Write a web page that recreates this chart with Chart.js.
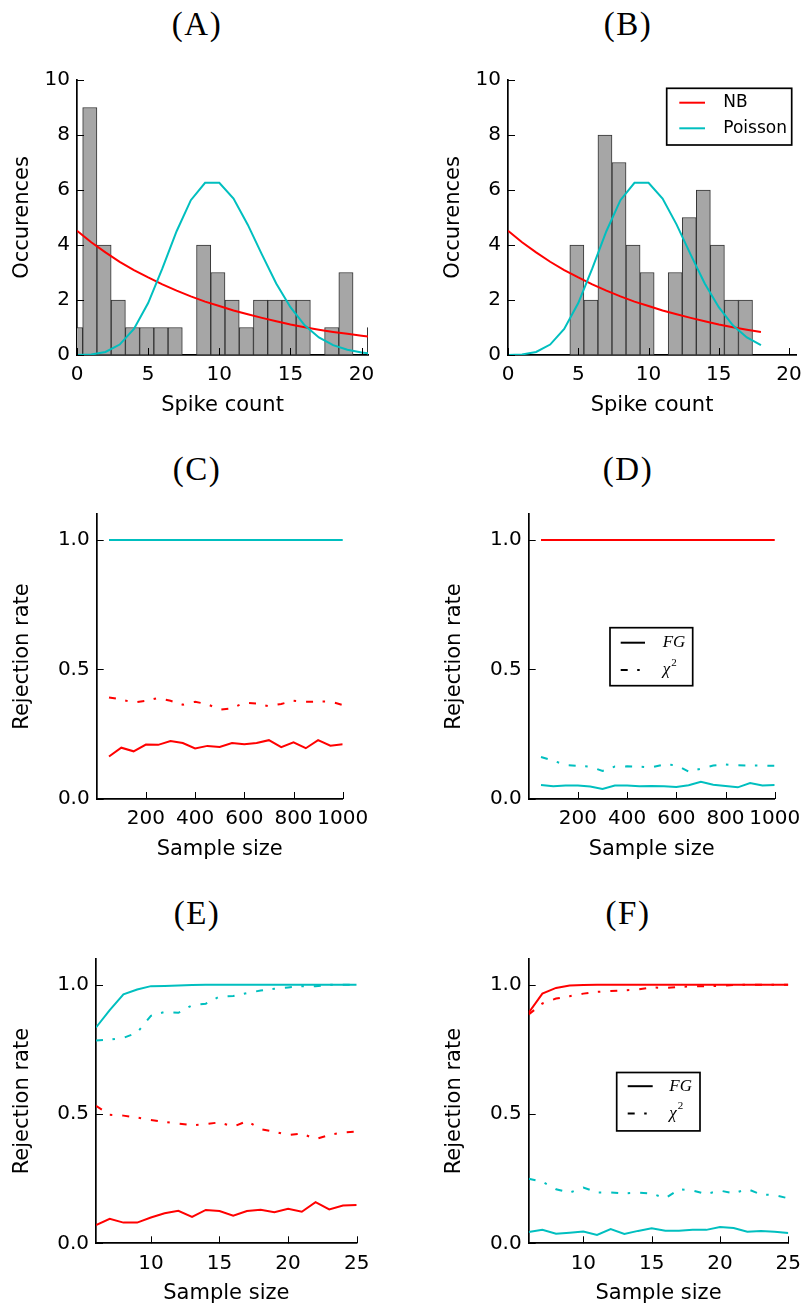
<!DOCTYPE html>
<html>
<head>
<meta charset="utf-8">
<script src="https://cdn.jsdelivr.net/npm/chart.js@4.4.1/dist/chart.umd.min.js"></script>
<style>
  body { margin: 0; background: #fff; width: 810px; height: 1307px; position: relative; overflow: hidden; }
  canvas { position: absolute; }
  .ttl { position: absolute; width: 200px; text-align: center; font-family: "Liberation Serif", serif;
         font-size: 33px; line-height: 32px; color: #000; letter-spacing: 1.5px; }
</style>
</head>
<body>
<div class="ttl" style="left:97px;top:8px">(A)</div>
<div class="ttl" style="left:528px;top:8px">(B)</div>
<div class="ttl" style="left:97px;top:453px">(C)</div>
<div class="ttl" style="left:528px;top:453px">(D)</div>
<div class="ttl" style="left:97px;top:897px">(E)</div>
<div class="ttl" style="left:528px;top:897px">(F)</div>

<canvas id="pA" width="405" height="380" style="left:0;top:55px"></canvas>
<canvas id="pB" width="405" height="380" style="left:405px;top:55px"></canvas>
<canvas id="pC" width="405" height="385" style="left:0;top:495px"></canvas>
<canvas id="pD" width="405" height="385" style="left:405px;top:495px"></canvas>
<canvas id="pE" width="405" height="367" style="left:0;top:940px"></canvas>
<canvas id="pF" width="405" height="367" style="left:405px;top:940px"></canvas>

<script>
// histogramas (centros de bin y cuentas)
const BIN_A = [-0.1, 0.9, 1.9, 2.9, 3.9, 4.9, 5.9, 6.9, 7.9, 8.9, 9.9, 10.9, 11.9, 12.9, 13.9, 14.9, 15.9, 16.9, 17.9, 18.9, 19.9, 20.9];
const COUNT_A = [1, 9, 4, 2, 1, 1, 1, 1, 0, 4, 3, 2, 1, 2, 2, 2, 2, 0, 1, 3, 0, 1];
const BIN_B = [4.9, 5.9, 6.9, 7.9, 8.9, 9.9, 10.9, 11.9, 12.9, 13.9, 14.9, 15.9, 16.9];
const COUNT_B = [4, 2, 8, 7, 4, 3, 0, 3, 5, 6, 4, 2, 2];

// curvas ajustadas
const FIT_X = [0, 1, 2, 3, 4, 5, 6, 7, 8, 9, 10, 11, 12, 13, 14, 15, 16, 17, 18, 19, 20, 21];
const NB_FIT = [4.52, 4.10, 3.73, 3.39, 3.09, 2.82, 2.57, 2.34, 2.13, 1.94, 1.78, 1.62, 1.48, 1.35, 1.23, 1.11, 1.01, 0.92, 0.84, 0.77, 0.70, 0.64];
const POIS_FIT = [0.00, 0.02, 0.11, 0.38, 0.95, 1.89, 3.15, 4.50, 5.63, 6.26, 6.26, 5.69, 4.74, 3.65, 2.60, 1.74, 1.08, 0.64, 0.36, 0.19, 0.09, 0.04];

// tasas de rechazo
const SIZE_LARGE = [50, 100, 150, 200, 250, 300, 350, 400, 450, 500, 550, 600, 650, 700, 750, 800, 850, 900, 950, 1000];
const SIZE_SMALL = [6, 7, 8, 9, 10, 11, 12, 13, 14, 15, 16, 17, 18, 19, 20, 21, 22, 23, 24, 25];

const C_NB_FG = [0.164, 0.198, 0.184, 0.210, 0.209, 0.224, 0.216, 0.195, 0.205, 0.201, 0.216, 0.211, 0.216, 0.227, 0.200, 0.219, 0.196, 0.227, 0.206, 0.211];
const C_NB_CHI = [0.392, 0.384, 0.372, 0.379, 0.390, 0.379, 0.364, 0.375, 0.366, 0.345, 0.350, 0.372, 0.368, 0.358, 0.367, 0.379, 0.375, 0.376, 0.376, 0.363];
const C_P_FG = [1, 1, 1, 1, 1, 1, 1, 1, 1, 1, 1, 1, 1, 1, 1, 1, 1, 1, 1, 1];
const C_P_CHI = [1, 1, 1, 1, 1, 1, 1, 1, 1, 1, 1, 1, 1, 1, 1, 1, 1, 1, 1, 1];

const D_NB_FG = [1, 1, 1, 1, 1, 1, 1, 1, 1, 1, 1, 1, 1, 1, 1, 1, 1, 1, 1, 1];
const D_NB_CHI = [1, 1, 1, 1, 1, 1, 1, 1, 1, 1, 1, 1, 1, 1, 1, 1, 1, 1, 1, 1];
const D_P_FG = [0.054, 0.049, 0.052, 0.052, 0.048, 0.039, 0.052, 0.052, 0.049, 0.050, 0.049, 0.046, 0.053, 0.066, 0.055, 0.050, 0.045, 0.062, 0.052, 0.054];
const D_P_CHI = [0.162, 0.148, 0.131, 0.128, 0.125, 0.108, 0.125, 0.126, 0.125, 0.122, 0.133, 0.131, 0.106, 0.117, 0.129, 0.133, 0.130, 0.129, 0.129, 0.128];

const E_NB_FG = [0.070, 0.095, 0.080, 0.080, 0.100, 0.116, 0.126, 0.102, 0.129, 0.125, 0.107, 0.125, 0.130, 0.120, 0.134, 0.122, 0.159, 0.131, 0.146, 0.148];
const E_NB_CHI = [0.532, 0.497, 0.494, 0.487, 0.477, 0.470, 0.463, 0.457, 0.461, 0.468, 0.451, 0.473, 0.442, 0.432, 0.419, 0.425, 0.403, 0.419, 0.429, 0.432];
const E_P_FG = [0.835, 0.902, 0.963, 0.982, 0.995, 0.996, 0.997, 0.999, 1, 1, 1, 1, 1, 1, 1, 1, 1, 1, 1, 1];
const E_P_CHI = [0.785, 0.788, 0.795, 0.815, 0.880, 0.895, 0.892, 0.921, 0.927, 0.955, 0.957, 0.968, 0.978, 0.985, 0.990, 0.995, 0.995, 1, 1, 1];

const F_NB_FG = [0.892, 0.966, 0.988, 0.997, 0.999, 1, 1, 1, 1, 1, 1, 1, 1, 1, 1, 1, 1, 1, 1, 1];
const F_NB_CHI = [0.885, 0.928, 0.947, 0.956, 0.966, 0.973, 0.976, 0.979, 0.982, 0.990, 0.988, 0.992, 0.994, 0.995, 0.996, 1, 1, 1, 1, 1];
const F_P_FG = [0.044, 0.052, 0.037, 0.041, 0.046, 0.032, 0.055, 0.036, 0.048, 0.058, 0.049, 0.049, 0.052, 0.052, 0.063, 0.059, 0.045, 0.048, 0.045, 0.040];
const F_P_CHI = [0.250, 0.238, 0.209, 0.196, 0.216, 0.197, 0.197, 0.193, 0.196, 0.193, 0.174, 0.209, 0.204, 0.191, 0.204, 0.193, 0.210, 0.189, 0.187, 0.174];

// ticks
const SPIKE_TICKS = [0, 5, 10, 15, 20];
const COUNT_TICKS = [0, 2, 4, 6, 8, 10];
const RATE_TICKS = [0, 0.5, 1];
const LARGE_TICKS = [200, 400, 600, 800, 1000];
const SMALL_TICKS = [10, 15, 20, 25];

Chart.defaults.font.family = "'DejaVu Sans', sans-serif";
Chart.defaults.color = '#000';
Chart.defaults.animation = false;

const RED = '#ff0000';
const CYAN = '#00bfbf';
const DASHDOT = [7, 9.5, 2.5, 10];
const TICK_LEN = 7;

// ticks hacia adentro (estilo matplotlib)
const inwardTicks = {
    id: 'inwardTicks',
    afterDraw(chart) {
        const { ctx, chartArea: a, scales: { x, y } } = chart;
        ctx.save();
        ctx.strokeStyle = '#000';
        ctx.lineWidth = 1;
        ctx.beginPath();
        x.ticks.forEach(t => {
            const px = Math.round(x.getPixelForValue(t.value)) + 0.5;
            ctx.moveTo(px, a.bottom);
            ctx.lineTo(px, a.bottom - TICK_LEN);
        });
        y.ticks.forEach(t => {
            const py = Math.round(y.getPixelForValue(t.value)) + 0.5;
            ctx.moveTo(a.left, py);
            ctx.lineTo(a.left + TICK_LEN, py);
        });
        ctx.stroke();
        ctx.restore();
    }
};

// leyenda con caja dentro del área
const boxLegend = {
    id: 'boxLegend',
    afterDraw(chart, args, o) {
        if (!o || !o.items) return;
        const { ctx, chartArea: a } = chart;
        const bx = a.left + o.x, by = a.top + o.y;
        ctx.save();
        ctx.fillStyle = '#fff';
        ctx.fillRect(bx, by, o.w, o.h);
        ctx.strokeStyle = '#000';
        ctx.lineWidth = 1.7;
        ctx.strokeRect(bx, by, o.w, o.h);
        o.items.forEach(it => {
            const ly = by + it.dy;
            ctx.beginPath();
            ctx.setLineDash(it.dash || []);
            ctx.strokeStyle = it.color;
            ctx.lineWidth = 2;
            ctx.moveTo(bx + o.line0, ly);
            ctx.lineTo(bx + o.line1, ly);
            ctx.stroke();
            ctx.setLineDash([]);
            ctx.fillStyle = '#000';
            ctx.font = o.font;
            ctx.textAlign = 'left';
            ctx.textBaseline = 'middle';
            ctx.fillText(it.text, bx + o.text, ly);
            if (it.sup) {
                const w = ctx.measureText(it.text).width;
                ctx.font = o.supFont;
                ctx.fillText(it.sup, bx + o.text + w + 1, ly - 7);
            }
        });
        ctx.restore();
    }
};

function pts(xs, ys) {
    return xs.map((x, i) => ({ x: x, y: ys[i] }));
}

function lineSet(xs, ys, color, dash, order) {
    return {
        type: 'line',
        data: pts(xs, ys),
        borderColor: color,
        borderWidth: 2,
        borderDash: dash || [],
        pointRadius: 0,
        tension: 0,
        fill: false,
        order: order
    };
}

function barSet(xs, counts) {
    return {
        type: 'bar',
        data: xs.map((x, i) => ({ x: x, y: counts[i] || null })),
        backgroundColor: '#a6a6a6',
        borderColor: '#333333',
        borderWidth: 1,
        borderSkipped: false,
        barPercentage: 1,
        categoryPercentage: 1,
        clip: 0,
        order: 5
    };
}

function panel(id, p) {
    const yW = p.area.l - p.cx;
    const xH = p.cy + p.ch - p.area.b;
    const lh = 21 * 1.2;
    new Chart(document.getElementById(id), {
        type: 'line',
        data: { datasets: p.datasets },
        plugins: [inwardTicks, boxLegend],
        options: {
            responsive: false,
            events: [],
            layout: { padding: { left: 0, bottom: 0, top: p.area.t - p.cy, right: p.cx + p.cw - p.area.r } },
            plugins: {
                legend: { display: false },
                tooltip: { enabled: false },
                boxLegend: p.legend || {}
            },
            scales: {
                x: {
                    type: 'linear',
                    min: p.xMin, max: p.xMax,
                    offset: false,
                    grid: { display: false, drawTicks: false, offset: false },
                    border: { display: true, color: '#000', width: 1.7 },
                    afterBuildTicks: s => { s.ticks = p.xTicks.map(v => ({ value: v })); },
                    afterFit: s => { s.height = xH; },
                    ticks: { autoSkip: false, maxRotation: 0, minRotation: 0, padding: 8, font: { size: 20 },
                             callback: v => String(v) },
                    title: { display: true, text: p.xTitle, font: { size: 21 },
                             padding: { top: 0, bottom: p.cy + p.ch - p.xTitleMid - lh / 2 } }
                },
                y: {
                    type: 'linear',
                    min: p.yMin, max: p.yMax,
                    grid: { display: false, drawTicks: false },
                    border: { display: true, color: '#000', width: 1.7 },
                    afterBuildTicks: s => { s.ticks = p.yTicks.map(v => ({ value: v })); },
                    afterFit: s => { s.width = yW; },
                    ticks: { autoSkip: false, padding: 7, font: { size: 20 }, callback: p.yFmt },
                    title: { display: true, text: p.yTitle, font: { size: 21 },
                             padding: { top: p.yTitleX - p.cx - lh / 2, bottom: 0 } }
                }
            }
        }
    });
}

const intFmt = v => String(v);
const rateFmt = v => v.toFixed(1);

const fgLegend = (x, y, w, h, l0, l1, tx, dy1, dy2) => ({
    x: x, y: y, w: w, h: h, line0: l0, line1: l1, text: tx,
    font: 'italic 17px "Liberation Serif", serif',
    supFont: '11px "Liberation Serif", serif',
    items: [
        { text: 'FG', color: '#000', dy: dy1 },
        { text: 'χ', sup: '2', color: '#000', dash: DASHDOT, dy: dy2 }
    ]
});

// (A)
panel('pA', {
    cx: 0, cy: 55, cw: 405, ch: 380, area: { l: 77, t: 80, r: 368, b: 355 },
    xMin: 0, xMax: 20.45, yMin: 0, yMax: 10, xTicks: SPIKE_TICKS, yTicks: COUNT_TICKS, yFmt: intFmt,
    xTitle: 'Spike count', yTitle: 'Occurences', xTitleMid: 405.5, yTitleX: 22.5,
    datasets: [
        barSet(BIN_A, COUNT_A),
        lineSet(FIT_X, NB_FIT, RED, null, 2),
        lineSet(FIT_X, POIS_FIT, CYAN, null, 1)
    ]
});

// (B)
panel('pB', {
    cx: 405, cy: 55, cw: 405, ch: 380, area: { l: 508, t: 80, r: 800.5, b: 355 },
    xMin: 0, xMax: 20.5, yMin: 0, yMax: 10, xTicks: SPIKE_TICKS, yTicks: COUNT_TICKS, yFmt: intFmt,
    xTitle: 'Spike count', yTitle: 'Occurences', xTitleMid: 405.5, yTitleX: 453.5,
    legend: {
        x: 158.7, y: 8.3, w: 125, h: 56.7, line0: 12.6, line1: 38.3, text: 56.6,
        font: '17px "DejaVu Sans", sans-serif',
        items: [
            { text: 'NB', color: RED, dy: 14.4 },
            { text: 'Poisson', color: CYAN, dy: 40 }
        ]
    },
    datasets: [
        barSet(BIN_B, COUNT_B),
        lineSet(FIT_X.slice(0, 19), NB_FIT.slice(0, 19), RED, null, 2),
        lineSet(FIT_X.slice(0, 19), POIS_FIT.slice(0, 19), CYAN, null, 1)
    ]
});

// (C)
panel('pC', {
    cx: 0, cy: 495, cw: 405, ch: 385, area: { l: 96.7, t: 514, r: 342.7, b: 799 },
    xMin: 0, xMax: 1000, yMin: 0, yMax: 1.1, xTicks: LARGE_TICKS, yTicks: RATE_TICKS, yFmt: rateFmt,
    xTitle: 'Sample size', yTitle: 'Rejection rate', xTitleMid: 850, yTitleX: 22.5,
    datasets: [
        lineSet(SIZE_LARGE, C_NB_FG, RED, null, 3),
        lineSet(SIZE_LARGE, C_NB_CHI, RED, DASHDOT, 4),
        lineSet(SIZE_LARGE, C_P_FG, CYAN, null, 1),
        lineSet(SIZE_LARGE, C_P_CHI, CYAN, DASHDOT, 2)
    ]
});

// (D)
panel('pD', {
    cx: 405, cy: 495, cw: 405, ch: 385, area: { l: 528.7, t: 514, r: 774.7, b: 799 },
    xMin: 0, xMax: 1000, yMin: 0, yMax: 1.1, xTicks: LARGE_TICKS, yTicks: RATE_TICKS, yFmt: rateFmt,
    xTitle: 'Sample size', yTitle: 'Rejection rate', xTitleMid: 850, yTitleX: 454.5,
    legend: fgLegend(81.3, 113.7, 82.7, 58, 10.7, 35, 52.7, 15, 42.3),
    datasets: [
        lineSet(SIZE_LARGE, D_NB_FG, RED, null, 1),
        lineSet(SIZE_LARGE, D_NB_CHI, RED, DASHDOT, 2),
        lineSet(SIZE_LARGE, D_P_FG, CYAN, null, 3),
        lineSet(SIZE_LARGE, D_P_CHI, CYAN, DASHDOT, 4)
    ]
});

// (E)
panel('pE', {
    cx: 0, cy: 940, cw: 405, ch: 367, area: { l: 96, t: 958.8, r: 356.7, b: 1243.3 },
    xMin: 6, xMax: 25, yMin: 0, yMax: 1.1, xTicks: SMALL_TICKS, yTicks: RATE_TICKS, yFmt: rateFmt,
    xTitle: 'Sample size', yTitle: 'Rejection rate', xTitleMid: 1294, yTitleX: 22.5,
    datasets: [
        lineSet(SIZE_SMALL, E_NB_FG, RED, null, 3),
        lineSet(SIZE_SMALL, E_NB_CHI, RED, DASHDOT, 4),
        lineSet(SIZE_SMALL, E_P_FG, CYAN, null, 1),
        lineSet(SIZE_SMALL, E_P_CHI, CYAN, DASHDOT, 2)
    ]
});

// (F)
panel('pF', {
    cx: 405, cy: 940, cw: 405, ch: 367, area: { l: 528.7, t: 958.8, r: 788.3, b: 1243.3 },
    xMin: 6, xMax: 25, yMin: 0, yMax: 1.1, xTicks: SMALL_TICKS, yTicks: RATE_TICKS, yFmt: rateFmt,
    xTitle: 'Sample size', yTitle: 'Rejection rate', xTitleMid: 1294, yTitleX: 454.5,
    legend: fgLegend(88, 113.5, 83.3, 58.4, 11, 36, 52.6, 13.7, 41),
    datasets: [
        lineSet(SIZE_SMALL, F_NB_FG, RED, null, 1),
        lineSet(SIZE_SMALL, F_NB_CHI, RED, DASHDOT, 2),
        lineSet(SIZE_SMALL, F_P_FG, CYAN, null, 3),
        lineSet(SIZE_SMALL, F_P_CHI, CYAN, DASHDOT, 4)
    ]
});
</script>
</body>
</html>
